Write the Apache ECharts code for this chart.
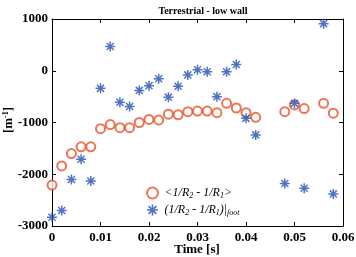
<!DOCTYPE html>
<html>
<head>
<meta charset="utf-8">
<script src="https://cdn.jsdelivr.net/npm/echarts@6/dist/echarts.min.js"></script>
<style>
  html, body { margin: 0; padding: 0; background: #fff; }
  #chart { width: 356px; height: 257px; }
</style>
</head>
<body>
<div id="chart"></div>
<script>
// time samples [s]
var timeS = [0, 0.002, 0.004, 0.006, 0.008, 0.010, 0.012, 0.014, 0.016, 0.018,
  0.020, 0.022, 0.024, 0.026, 0.028, 0.030, 0.032, 0.034, 0.036, 0.038,
  0.040, 0.042, 0.048, 0.050, 0.052, 0.056, 0.058]
// <1/R2 - 1/R1>
var meanCurv = [-2210, -1840, -1600, -1470, -1470, -1120, -1040, -1100, -1100, -1000,
  -940, -950, -840, -850, -790, -780, -780, -810, -630, -720,
  -810, -900, -790, -660, -730, -630, -820]
// (1/R2 - 1/R1)|foot
var footCurv = [-2830, -2700, -2100, -1710, -2130, -340, 470, -610, -690, -380,
  -290, -155, -510, -300, -80, 20, -20, -500, -20, 120,
  -920, -1240, -2180, -630, -2270, 910, -2380]
var xTicks = [0, 0.01, 0.02, 0.03, 0.04, 0.05, 0.06]
var yTicks = [-3000, -2000, -1000, 0, 1000]

var serif = 'Liberation Serif'
var red = '#e9532c'
var blue = '#2350b4'
// asterisk marker, thick strokes
var star = 'path://M8.5,0L11.5,0L11.5,20L8.5,20Z M0,8.5L20,8.5L20,11.5L0,11.5Z M1.9,4L4,1.9L18.1,16L16,18.1Z M16,1.9L18.1,4L4,18.1L1.9,16Z'

function pairs(ys) {
  return timeS.map(function (t, i) { return [t, ys[i]] })
}

var chart = echarts.init(document.getElementById('chart'))
var tickLabel = { fontFamily: serif, fontWeight: 'bold', fontSize: 13, color: '#000' }
var boxLine = { show: true, onZero: false, lineStyle: { color: '#000', width: 1 } }
var boxTick = { show: true, inside: true, length: 4, lineStyle: { color: '#000' } }

chart.setOption({
  animation: false,
  title: {
    text: 'Terrestrial - low wall',
    left: 198, top: 1, textAlign: 'center',
    textStyle: { fontFamily: serif, fontWeight: 'bold', fontSize: 10, color: '#000' }
  },
  // axis names placed by hand
  graphic: [{
    type: 'text', x: 197, y: 250,
    style: { text: 'Time [s]', font: 'bold 13px "Liberation Serif"', fill: '#000', align: 'center', verticalAlign: 'middle' }
  }, {
    type: 'text', x: 9, y: 120, rotation: Math.PI / 2,
    style: {
      text: '{a|[m}{b|-1}{a|]}', align: 'center', verticalAlign: 'middle',
      rich: {
        a: { fontFamily: serif, fontWeight: 'bold', fontSize: 13, fill: '#000', lineHeight: 16 },
        b: { fontFamily: serif, fontWeight: 'bold', fontSize: 8, fill: '#000', lineHeight: 16, padding: [0, 0, 6, 0] }
      }
    }
  }],
  grid: { left: 52, right: 13, top: 19, bottom: 31, outerBoundsMode: 'none', containLabel: false },
  legend: {
    orient: 'vertical',
    left: 141, top: 181,
    itemWidth: 14, itemHeight: 11, itemGap: 3,
    data: ['mean', 'foot'],
    formatter: function (name) {
      if (name === 'mean') return '{t|<1/R}{s|2}{t| - 1/R}{s|1}{t|>}'
      return '{t|(1/R}{s|2}{t| - 1/R}{s|1}{t|)|}{s|foot}'
    },
    textStyle: {
      color: '#000',
      rich: {
        t: { fontFamily: serif, fontStyle: 'italic', fontSize: 12, color: '#000', lineHeight: 16 },
        s: { fontFamily: serif, fontStyle: 'italic', fontSize: 8, color: '#000', lineHeight: 16, padding: [6, 0, 0, 0] }
      }
    }
  },
  xAxis: [{
    type: 'value', min: 0, max: 0.06, interval: 0.01,
    axisLine: boxLine, axisTick: boxTick,
    axisLabel: Object.assign({ margin: 5, formatter: function (v) { return xTicks.indexOf(+v.toFixed(2)) >= 0 ? String(+v.toFixed(2)) : '' } }, tickLabel),
    splitLine: { show: false }
  }, {
    type: 'value', position: 'top', min: 0, max: 0.06, interval: 0.01,
    axisLine: boxLine, axisTick: boxTick,
    axisLabel: { show: false }, splitLine: { show: false }
  }],
  yAxis: [{
    type: 'value', min: -3000, max: 1000, interval: 1000,
    axisLine: boxLine, axisTick: boxTick,
    axisLabel: Object.assign({ margin: 4, formatter: function (v) { return yTicks.indexOf(v) >= 0 ? String(v) : '' } }, tickLabel),
    splitLine: { show: false }
  }, {
    type: 'value', position: 'right', min: -3000, max: 1000, interval: 1000,
    axisLine: boxLine, axisTick: boxTick,
    axisLabel: { show: false }, splitLine: { show: false }
  }],
  series: [{
    name: 'mean', type: 'scatter',
    symbol: 'emptyCircle', symbolSize: 9,
    itemStyle: { color: red, borderColor: red, borderWidth: 1.4 },
    data: pairs(meanCurv)
  }, {
    name: 'foot', type: 'scatter',
    symbol: star, symbolSize: 10,
    itemStyle: { color: blue },
    data: pairs(footCurv)
  }]
})
</script>
</body>
</html>
